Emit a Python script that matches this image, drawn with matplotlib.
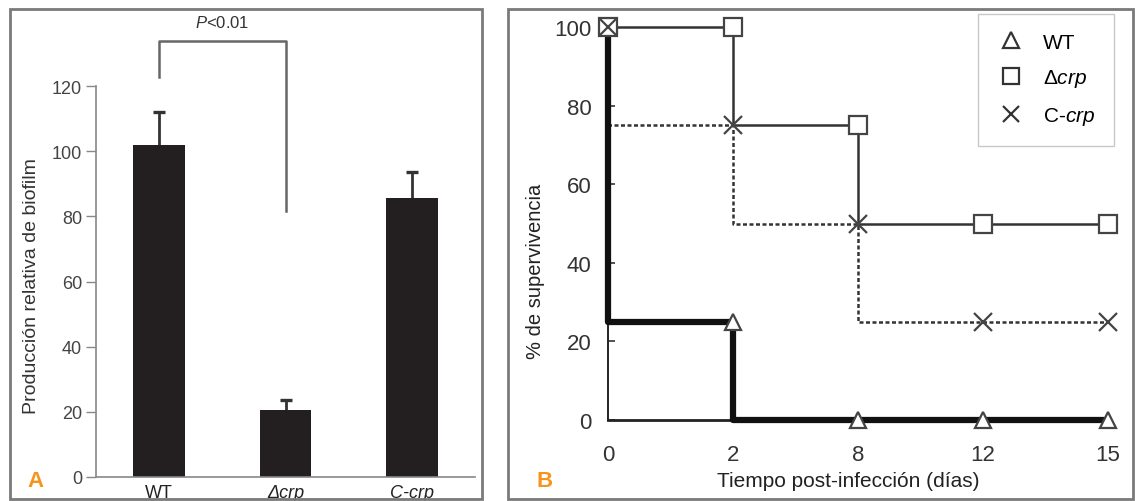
import numpy as np
import matplotlib
matplotlib.use('Agg')
import matplotlib.pyplot as plt
from matplotlib.lines import Line2D
from matplotlib.patches import Rectangle

plt.rcParams['font.family'] = ['Liberation Sans', 'DejaVu Sans']
plt.rcParams['mathtext.fontset'] = 'custom'
plt.rcParams['mathtext.rm'] = 'Liberation Sans'
plt.rcParams['mathtext.it'] = 'Liberation Sans:italic'

NARROW = ['Liberation Sans Narrow', 'Liberation Sans', 'DejaVu Sans']

W, H = 1135, 502

# Panel A: relative biofilm production
strains = ['WT', 'Δcrp', 'C-crp']
biofilm = [102, 20.5, 85.5]
biofilm_err = [10, 3, 8]

# Panel B: survival over days post-infection
days = ['0', '2', '8', '12', '15']
# value plotted at each day (before the drop) and value right after it
wt_at = [100, 25, 0, 0, 0]
wt_after = [25, 0, 0, 0, 0]
dcrp_at = [100, 100, 75, 50, 50]
dcrp_after = [100, 75, 50, 50, 50]
ccrp_at = [100, 75, 50, 25, 25]
ccrp_after = [75, 50, 25, 25, 25]

ORANGE = '#f7941d'
DARK = '#231f20'


def px_axes(fig, left, top, right, bottom):
    return fig.add_axes([left / W, 1 - bottom / H, (right - left) / W, (bottom - top) / H])


fig = plt.figure(figsize=(W / 100, H / 100), dpi=100)

# panel frames
for x0, x1 in [(10, 482), (508, 1133)]:
    fig.patches.append(Rectangle((x0 / W, 1 - 500 / H), (x1 - x0) / W, 490 / H,
                                 transform=fig.transFigure, fill=False,
                                 edgecolor='#7a7a7a', lw=2))

# ---- panel A ----
axA = px_axes(fig, 96, 87, 475, 478)
pos = np.arange(len(strains))
axA.bar(pos, biofilm, width=0.41, color=DARK, zorder=2)
tops = np.array(biofilm) + np.array(biofilm_err)
axA.vlines(pos, biofilm, tops, color='#333333', lw=2, zorder=1)
axA.plot(pos, tops, ls='none', marker='_', ms=9, mew=2.4, color='#333333')
axA.set_xlim(-0.5, 2.5)
axA.set_ylim(0, 120)
axA.set_yticks(range(0, 121, 20))
axA.set_xticks(pos)
axA.set_xticklabels(strains, fontsize=13, color='#222222', family=NARROW)
for lab in axA.get_xticklabels()[1:]:
    lab.set_style('italic')
axA.tick_params(axis='x', length=0, pad=5)
axA.tick_params(axis='y', length=7, width=1, color='#888888', pad=3,
                labelsize=13, labelcolor='#444444')
for lab in axA.get_yticklabels():
    lab.set_family(NARROW)
for s in ['top', 'right']:
    axA.spines[s].set_visible(False)
axA.spines['left'].set_bounds(0, 120)
axA.spines['left'].set_color('#888888')
axA.spines['bottom'].set_color('#888888')
axA.spines['left'].set_linewidth(1.2)
axA.spines['bottom'].set_linewidth(1.2)
axA.set_ylabel('Producción relativa de biofilm', fontsize=14, color='#333333')
axA.yaxis.set_label_coords(-0.148, 0.49)

# significance bracket between WT and Δcrp
axA.plot([0, 0, 1, 1], [122.7, 133.7, 133.7, 81.6], color='#666666', lw=1.8,
         clip_on=False)
axA.text(0.5, 139.5, r'$\mathit{P}$<0.01', ha='center', va='center',
         fontsize=12, color='#333333', family=NARROW)
fig.text(35 / W, 1 - 482 / H, 'A', color=ORANGE, fontsize=16, weight='bold',
         ha='center', va='center')

# ---- panel B ----
axB = px_axes(fig, 608, 28, 1108, 421)
xpos = np.arange(len(days))


def step_path(at, after):
    xs = np.repeat(xpos, 2)
    ys = np.column_stack([at, after]).ravel()
    return xs, ys


x, y = step_path(ccrp_at, ccrp_after)
axB.plot(x, y, color='#333333', lw=1.8, ls=(0, (1.6, 1.0)), clip_on=False, zorder=2)
x, y = step_path(dcrp_at, dcrp_after)
axB.plot(x, y, color='#333333', lw=1.8, clip_on=False, zorder=3)
x, y = step_path(wt_at, wt_after)
axB.plot(x, y, color='#111111', lw=4.5, clip_on=False, zorder=4, solid_capstyle='butt')

axB.plot(xpos, wt_at, ls='none', marker='^', ms=12, mfc='white', mec='#444444',
         mew=1.6, clip_on=False, zorder=5)
axB.plot(xpos, dcrp_at, ls='none', marker='s', ms=13, mfc='white', mec='#444444',
         mew=1.6, clip_on=False, zorder=5)
axB.plot(xpos, ccrp_at, ls='none', marker='x', ms=13, mec='#444444',
         mew=1.6, clip_on=False, zorder=6)

axB.set_xlim(0, 4)
axB.set_ylim(0, 100)
axB.set_xticks(xpos)
axB.set_xticklabels(days)
axB.set_yticks(range(0, 101, 20))
axB.tick_params(axis='x', length=0, pad=17, labelsize=16, labelcolor='#333333')
axB.tick_params(axis='y', direction='in', length=5, width=1.2, color='#333333',
                pad=12, labelsize=16, labelcolor='#333333')
for lab in axB.get_xticklabels() + axB.get_yticklabels():
    lab.set_family(NARROW)
for s in ['top', 'right']:
    axB.spines[s].set_visible(False)
axB.spines['left'].set_linewidth(1.4)
axB.spines['bottom'].set_linewidth(2)
axB.spines['left'].set_color('#222222')
axB.spines['bottom'].set_color('#222222')
axB.set_ylabel('% de supervivencia', fontsize=14.5, color='#222222')
axB.yaxis.set_label_coords(-0.126, 0.38)
axB.set_xlabel('Tiempo post-infección (días)', fontsize=15, color='#222222',
               family=NARROW)
axB.xaxis.set_label_coords(0.48, -0.13)

handles = [
    Line2D([], [], ls='none', marker='^', ms=12, mfc='white', mec='#333333', mew=1.6),
    Line2D([], [], ls='none', marker='s', ms=12, mfc='white', mec='#333333', mew=1.6),
    Line2D([], [], ls='none', marker='x', ms=12, mec='#333333', mew=1.6),
]
leg = axB.legend(handles, ['WT', r'$\Delta\mathit{crp}$', r'C-$\mathit{crp}$'],
                 loc='upper left', bbox_to_anchor=(978 / W, 1 - 15 / H),
                 bbox_transform=fig.transFigure, borderaxespad=0, fontsize=15,
                 frameon=True, fancybox=False, handletextpad=0.8,
                 labelspacing=0.75, borderpad=0.9, handlelength=1.4)
leg.get_frame().set_edgecolor('#bbbbbb')
leg.get_frame().set_linewidth(1)
fig.text(545 / W, 1 - 482 / H, 'B', color=ORANGE, fontsize=16, weight='bold',
         ha='center', va='center')

fig.savefig('out.png', dpi=100)
